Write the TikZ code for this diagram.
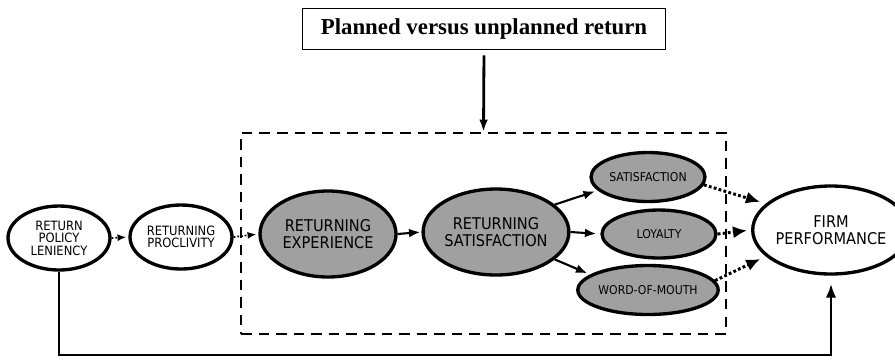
\documentclass[tikz,border=0pt]{standalone}
\usepackage{fontspec}
\setmainfont{DejaVu Sans}[FakeStretch=0.9]
\newfontfamily\titlefont{Liberation Serif}
\usepackage{tikz}
\usetikzlibrary{arrows.meta}
\usetikzlibrary{shapes.geometric}
\definecolor{construct}{RGB}{160,160,160}
\newcommand{\pxu}{0.02cm}

\tikzset{
  latent/.style={ellipse, draw=black, line width=1.9pt, inner sep=0pt, align=center},
  core/.style={latent, fill=construct},
  bigtext/.style={font=\fontsize{9.2}{9.8}\selectfont},
  smalltext/.style={font=\fontsize{6.9}{7}\selectfont},
  sidetext/.style={font=\fontsize{7.3}{7.1}\selectfont},
  solidarrow/.style={line width=1.2pt, -{Latex[length=6.5pt, width=5pt]}},
  smalldots/.style={line width=1pt, dash pattern=on 1pt off 1.1pt, -{Latex[length=5pt, width=4pt]}},
  bigdots/.style={line width=1.7pt, dash pattern=on 1.6pt off 1.3pt, -{Latex[length=8pt, width=7pt]}}
}

\begin{document}
\begin{tikzpicture}[x=\pxu, y=-\pxu]
            \useasboundingbox (0,0) rectangle (895,363);
            % moderator
            \node[draw, line width=1pt, minimum width=363*\pxu, minimum height=41*\pxu, inner sep=0pt,
                  font=\titlefont\bfseries\fontsize{13}{15}\selectfont]  (title)  at (484, 29)  {Planned versus unplanned return};
            \node[draw, line width=1.3pt, dash pattern=on 6pt off 4pt,
                  minimum width=485*\pxu, minimum height=201*\pxu, inner sep=0pt] (frame) at (483.5, 233.5) {};
            % constructs
            \node[latent, sidetext,  minimum width=102*\pxu, minimum height=64*\pxu] (lenient) at ( 59, 238) {RETURN\\POLICY\\LENIENCY};
            \node[latent, sidetext,  minimum width=102*\pxu, minimum height=64*\pxu] (procl)   at (181, 237) {RETURNING\\PROCLIVITY};
            \node[core,   bigtext,   minimum width=136*\pxu, minimum height=86*\pxu] (exper)   at (328, 234) {RETURNING\\EXPERIENCE};
            \node[core,   bigtext,   minimum width=134*\pxu, minimum height=86*\pxu] (rsat)    at (496, 232) {RETURNING\\SATISFACTION};
            \node[core,   smalltext, minimum width=114*\pxu, minimum height=49*\pxu] (sat)     at (648, 177) {SATISFACTION};
            \node[core,   smalltext, minimum width=114*\pxu, minimum height=48*\pxu] (loy)     at (659, 234) {LOYALTY};
            \node[core,   smalltext, minimum width=116*\pxu, minimum height=49*\pxu] (wom)     at (648, 290) {WORD-OF-MOUTH};
            \node[latent, bigtext,   minimum width=126*\pxu, minimum height=88*\pxu] (firm)    at (831, 230) {FIRM\\PERFORMANCE};
            % paths
            \draw[line width=1.6pt, -{Latex[length=7pt, width=5pt]}, shorten <=5*\pxu] (title.south) -- (frame.north);
            \draw[smalldots, shorten >=2*\pxu]  (lenient.east) -- (procl.west);
            \draw[smalldots, shorten >=2*\pxu]  (procl.east)   -- (exper.west);
            \draw[solidarrow, shorten >=1*\pxu] (exper.east)   -- (rsat.west);
            \draw[solidarrow, shorten >=3*\pxu] (rsat.25)      -- (sat.195);
            \draw[solidarrow, shorten >=4*\pxu] (rsat.east)    -- (loy.west);
            \draw[solidarrow, shorten >=3*\pxu] (rsat.-25)     -- (wom.165);
            \draw[bigdots, shorten >=6*\pxu]    (sat.-8)       -- (firm.158);
            \draw[bigdots, shorten >=4*\pxu]    (loy.east)     -- (firm.west);
            \draw[bigdots, shorten >=6*\pxu]    (wom.8)        -- (firm.202);
            \coordinate (base) at (0, 355);
            \draw[line width=1.5pt, -{Latex[length=8pt, width=6pt]}, shorten >=8*\pxu]
                 (lenient.south) -- (lenient.south |- base) -| (firm.south);
\end{tikzpicture}
\end{document}
